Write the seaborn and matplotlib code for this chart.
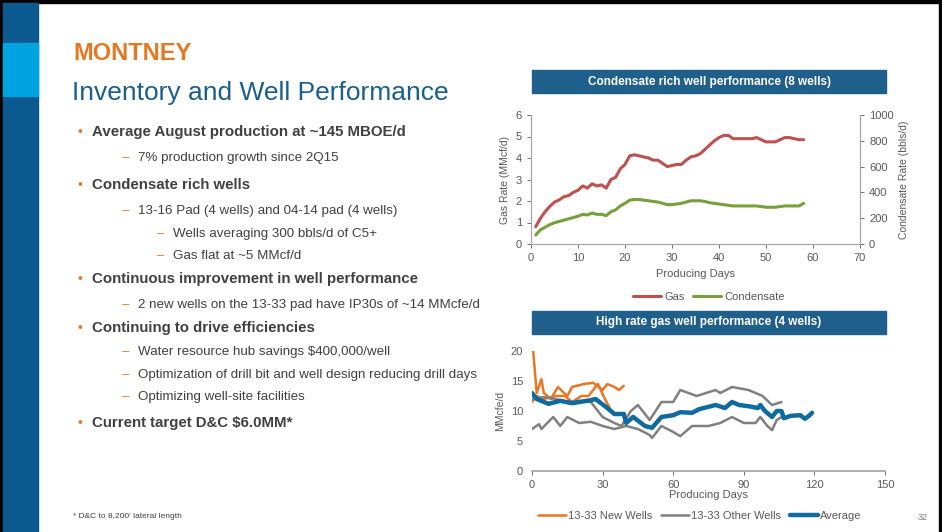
import matplotlib
matplotlib.use("Agg")
import matplotlib.pyplot as plt
import seaborn as sns
import pandas as pd
import numpy as np

sns.set_theme(style="white")
plt.rcParams['font.family'] = ['Liberation Sans', 'DejaVu Sans']

# ---------------- data ----------------
cr_days = list(range(1, 59))
gas = [0.8,1.2,1.5,1.75,1.95,2.05,2.2,2.25,2.4,2.5,2.7,2.6,2.8,2.7,2.75,2.6,3.0,3.1,3.5,3.7,
       4.1,4.15,4.1,4.05,4.0,3.9,3.9,3.75,3.6,3.65,3.7,3.7,3.9,4.05,4.1,4.2,4.4,4.6,4.8,4.95,
       5.05,5.05,4.9,4.9,4.9,4.9,4.9,4.95,4.85,4.75,4.75,4.75,4.85,4.95,4.95,4.9,4.85,4.85]
cond = [70,110,130,150,165,175,185,195,205,215,230,225,240,230,230,220,250,265,295,315,
        340,345,345,340,335,330,325,315,305,305,310,315,325,335,335,335,330,320,315,310,
        305,300,295,295,295,295,295,295,290,285,285,285,290,295,295,295,295,315]

new1_d = [0.5,2,4,5,8,11,15,17,22,26,30,32,35,37,39]
new1_v = [20,13,15.3,13,12,14,12.5,14,14.5,14.7,13.5,14.5,14,13.5,14.2]
new2_d = [0,2,5,10,14,17,21,24,28,31,33]
new2_v = [11.5,12.5,12,12.5,12.5,11.5,12.5,12.5,14.5,12,10.5]
oth1_d = [0,5,10,15,20,25,30,35,38,42,45,50,55,60,63,70,78,80,85,92,98,102,106]
oth1_v = [12,12.3,12,11.5,11.7,11.5,9,8,7.5,10,11,8.5,11.5,11.5,13.5,12.5,13.5,13,14,13.5,12.5,11,11.5]
oth2_d = [0,3,4,9,12,15,20,25,30,35,40,45,50,51,55,60,63,68,75,80,85,90,95,97,100,102,104,106]
oth2_v = [7,7.8,7,9,7.5,9,8,8.2,7.5,7,7.5,7,6,5.5,7.5,6.5,5.8,7.5,7.5,8,9,8,8,9,7.5,6.8,8.5,9]
avg_d = [0,2,7,12,17,25,27,32,35,39,40,43,48,51,55,60,63,68,71,75,78,82,85,88,92,96,97,99,102,104,106,107,110,114,116,118,119]
avg_v = [13,12,11.2,11.7,11.3,11.8,12,10.5,9.5,9.5,8,9,7.5,7.2,9,9.3,9.8,9.7,10.3,10.7,11,10.5,11.5,11,10.8,10.5,11,10,9,10,10,8.8,9.2,9.3,8.7,9.3,9.7]

bullets = [
    (0, "Average August production at ~145 MBOE/d"),
    (1, "7% production growth since 2Q15"),
    (0, "Condensate rich wells"),
    (1, "13-16 Pad (4 wells) and 04-14 pad (4 wells)"),
    (2, "Wells averaging 300 bbls/d of C5+"),
    (2, "Gas flat at ~5 MMcf/d"),
    (0, "Continuous improvement in well performance"),
    (1, "2 new wells on the 13-33 pad have IP30s of ~14 MMcfe/d"),
    (0, "Continuing to drive efficiencies"),
    (1, "Water resource hub savings $400,000/well"),
    (1, "Optimization of drill bit and well design reducing drill days"),
    (1, "Optimizing well-site facilities"),
    (0, "Current target D&C $6.0MM*"),
]
bullet_y = [132,158,185,211,234,256,279,305,328,352,375,397,423]

W, H = 942, 532
fig = plt.figure(figsize=(9.42, 5.32), dpi=100)
fig.patch.set_facecolor("white")
def fx(x): return x / W
def fy(y): return 1 - y / H

# slide decorations
deco = fig.add_axes([0, 0, 1, 1]); deco.set_xlim(0, W); deco.set_ylim(H, 0); deco.axis("off")
deco.add_patch(plt.Rectangle((0, 0), W, 3, color="black"))
deco.add_patch(plt.Rectangle((0, 0), 3, H, color="black"))
deco.add_patch(plt.Rectangle((W-3, 0), 3, H, color="black"))
deco.add_patch(plt.Rectangle((3, 3), 35, H, color="#0b5a8f"))
deco.add_patch(plt.Rectangle((3, 43), 35, 53, color="#00a3e0"))
deco.text(73, 53, "MONTNEY", color="#e87722", fontsize=17, fontweight="bold", va="center")
deco.text(72, 93, "Inventory and Well Performance", color="#1a5e8e", fontsize=19, va="center")
for (lvl, txt), y in zip(bullets, bullet_y):
    if lvl == 0:
        deco.text(77, y, "•", color="#e87722", fontsize=10, va="center")
        deco.text(92, y, txt, color="#404040", fontsize=10.8, fontweight="bold", va="center")
    elif lvl == 1:
        deco.text(122, y, "–", color="#e87722", fontsize=9.5, va="center")
        deco.text(138, y, txt, color="#404040", fontsize=9.6, va="center")
    else:
        deco.text(157, y, "–", color="#e87722", fontsize=9.5, va="center")
        deco.text(173, y, txt, color="#404040", fontsize=9.6, va="center")
deco.text(73, 517, "* D&C to 8,200' lateral length", color="#404040", fontsize=6, va="center")
deco.text(918, 517, "32", color="#808080", fontsize=6.5, va="center")
for y0, t in [(70, "Condensate rich well performance (8 wells)"), (311, "High rate gas well performance (4 wells)")]:
    deco.add_patch(plt.Rectangle((532, y0), 354, 23, color="#1f5f8b"))
    deco.text(709, y0 + 11.5, t, color="white", fontsize=8.5, fontweight="bold", ha="center", va="center")

grey = "#595959"
# ---------------- top chart ----------------
ax1 = fig.add_axes([fx(531), fy(244), fx(860) - fx(531), fy(115) - fy(244)])
df1 = pd.DataFrame({"day": cr_days, "gas": gas, "cond": cond})
sns.lineplot(data=df1, x="day", y="gas", ax=ax1, color="#c0504d", lw=2.2, label="Gas", legend=False)
ax2 = ax1.twinx()
sns.lineplot(data=df1, x="day", y="cond", ax=ax2, color="#77a03c", lw=2.2, label="Condensate", legend=False)
ax1.set_xlim(0, 70); ax1.set_ylim(0, 6); ax2.set_ylim(0, 1000)
ax1.set_xticks(range(0, 71, 10)); ax1.set_yticks(range(0, 7)); ax2.set_yticks(range(0, 1001, 200))
ax1.set_xlabel("Producing Days", color=grey, fontsize=8)
ax1.set_ylabel("Gas Rate (MMcf/d)", color=grey, fontsize=7.5)
ax2.set_ylabel("Condensate Rate (bbls/d)", color=grey, fontsize=7.5)
for a in (ax1, ax2):
    a.tick_params(colors=grey, labelsize=8, length=3, width=0.6, direction="out")
    a.spines["top"].set_visible(False)
    for s in ("left", "right", "bottom"):
        a.spines[s].set_color("#a6a6a6"); a.spines[s].set_linewidth(0.8)
ax1.tick_params(axis="y", left=True); ax2.tick_params(axis="y", right=True)
ax1.tick_params(axis="x", bottom=True)
h = ax1.get_lines() + ax2.get_lines()
fig.legend(h, ["Gas", "Condensate"], loc="center", bbox_to_anchor=(fx(709), fy(297)), ncol=2,
           frameon=False, fontsize=8, labelcolor=grey, handlelength=2.5, columnspacing=0.8, handletextpad=0.3)

# ---------------- bottom chart ----------------
ax3 = fig.add_axes([fx(532), fy(471), fx(885) - fx(532), fy(351) - fy(471)])
col_new, col_oth, col_avg = "#e87722", "#808080", "#0f6aa0"
series = [(new1_d, new1_v, col_new, 1.8, "13-33 New Wells"), (new2_d, new2_v, col_new, 1.8, None),
          (oth1_d, oth1_v, col_oth, 1.8, "13-33 Other Wells"), (oth2_d, oth2_v, col_oth, 1.8, None),
          (avg_d, avg_v, col_avg, 3.2, "Average")]
for d, v, c, lw, lab in series:
    sns.lineplot(x=d, y=v, ax=ax3, color=c, lw=lw, label=lab, legend=False)
ax3.set_xlim(0, 150); ax3.set_ylim(0, 20)
ax3.set_xticks(range(0, 151, 30)); ax3.set_yticks(range(0, 21, 5))
ax3.set_xlabel("Producing Days", color=grey, fontsize=8, labelpad=0)
ax3.set_ylabel("MMcfe/d", color=grey, fontsize=7.5)
ax3.tick_params(colors=grey, labelsize=8, length=3, width=0.6, bottom=True)
for s in ("top", "right", "left"):
    ax3.spines[s].set_visible(False)
ax3.spines["bottom"].set_color("#a6a6a6")
ls = ax3.get_lines()
fig.legend([ls[0], ls[2], ls[4]], ["13-33 New Wells", "13-33 Other Wells", "Average"], loc="center",
           bbox_to_anchor=(fx(700), fy(516)), ncol=3, frameon=False, fontsize=8, labelcolor=grey,
           handlelength=2.5, columnspacing=0.8, handletextpad=0.2)

fig.savefig("out.png", dpi=100)
